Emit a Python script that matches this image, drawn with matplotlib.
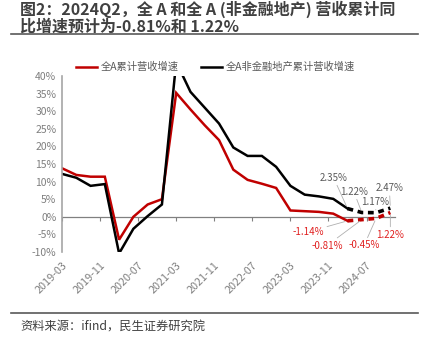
import numpy as np
import pandas as pd
import matplotlib
matplotlib.use("Agg")
import matplotlib.pyplot as plt
from matplotlib.lines import Line2D

plt.rcParams['font.family'] = ['Noto Sans CJK SC', 'DejaVu Sans']

# quarterly data, 2019Q1 .. 2024Q4
quarters = pd.period_range('2019Q1', '2024Q4', freq='Q')
all_a = [13.8, 11.9, 11.4, 11.4, -6.5, 0.0, 3.5, 5.0,
         35.2, 30.5, 26.0, 21.8, 13.4, 10.5, 9.4, 8.2,
         1.8, 1.6, 1.4, 0.9, -1.14, -0.81, -0.45, 1.22]
non_fin = [12.2, 11.1, 8.8, 9.3, -10.4, -3.4, 0.2, 3.5,
           44.0, 35.5, 31.0, 26.5, 19.7, 17.3, 17.3, 14.2,
           8.8, 6.3, 5.8, 5.1, 2.35, 1.22, 1.17, 2.47]
tick_labels = ['2019-03', '2019-11', '2020-07', '2021-03', '2021-11',
               '2022-07', '2023-03', '2023-11', '2024-07']
n_solid = 21  # last actual point is 2024Q1, rest dashed

# label texts and offsets (pixels) for the dashed tail
red_lab = ['-1.14%', '-0.81%', '-0.45%', '1.22%']
red_off = [(-39, -11), (-35, -26), (-12, -27), (0, -22)]
blk_lab = ['2.35%', '1.22%', '1.17%', '2.47%']
blk_off = [(-14, 31), (-8, 21), (-1, 11), (-1, 20)]

RED = '#C00000'
GRAY = '#7f7f7f'

x = np.array([(q.year - 2019) * 12 + q.quarter * 3 - 3 for q in quarters])
tick_x = [(int(t[:4]) - 2019) * 12 + int(t[5:]) - 3 for t in tick_labels]

fig = plt.figure(figsize=(4.29, 3.44), dpi=100)
ax = fig.add_axes([0.1445, 0.2674, 0.7765, 0.5116])

ax.plot(x[:n_solid], all_a[:n_solid], color=RED, lw=1.8, solid_joinstyle='miter')
ax.plot(x[:n_solid], non_fin[:n_solid], color='black', lw=1.8, solid_joinstyle='miter')
ax.plot(x[n_solid - 1:], all_a[n_solid - 1:], color=RED, lw=2.6, ls=(0, (1.6, 1.3)))
ax.plot(x[n_solid - 1:], non_fin[n_solid - 1:], color='black', lw=2.6, ls=(0, (1.6, 1.3)))

ax.set_xlim(0, 70)
ax.set_ylim(-10, 40)
ax.set_yticks(range(-10, 41, 5))
ax.set_yticklabels([f'{v}%' for v in range(-10, 41, 5)])
ax.set_xticks(tick_x)
ax.set_xticklabels(tick_labels, rotation=45, ha='right', rotation_mode='anchor')
ax.tick_params(axis='x', length=0, pad=6, labelsize=7.8, labelcolor=GRAY)
ax.tick_params(axis='y', length=0, pad=4, labelsize=7.5, labelcolor=GRAY)
for s in ['top', 'right', 'bottom']:
    ax.spines[s].set_visible(False)
ax.spines['left'].set_color('#a6a6a6')
ax.spines['left'].set_linewidth(1.2)

# zero axis with tick marks
sec = ax.secondary_xaxis(0.2)
sec.set_xticks(tick_x)
sec.tick_params(axis='x', direction='out', length=3, color='#808080',
                labelbottom=False, width=0.8)
sec.spines['bottom'].set_color('#808080')
sec.spines['bottom'].set_linewidth(0.9)

# point labels
for i in range(4):
    k = n_solid - 1 + i
    ax.annotate(red_lab[i], (x[k], all_a[k]), xytext=red_off[i],
                textcoords='offset pixels', ha='center', va='center',
                fontsize=7, color='#e02020',
                arrowprops=dict(arrowstyle='-', color='#b0b0b0', lw=0.6,
                                shrinkA=0, shrinkB=2))
    ax.annotate(blk_lab[i], (x[k], non_fin[k]), xytext=blk_off[i],
                textcoords='offset pixels', ha='center', va='center',
                fontsize=7, color='#595959',
                arrowprops=dict(arrowstyle='-', color='#b0b0b0', lw=0.6,
                                shrinkA=0, shrinkB=2))

# legend
handles = [Line2D([], [], color=RED, lw=1.8), Line2D([], [], color='black', lw=1.8)]
leg = fig.legend(handles, ['全A累计营收增速', '全A非金融地产累计营收增速'],
                 loc='center', bbox_to_anchor=(0.502, 1 - 67 / 344), ncol=2,
                 frameon=False, fontsize=7.4, handlelength=2.05, columnspacing=2.1,
                 handletextpad=0.4)
for t in leg.get_texts():
    t.set_color('#595959')

# title, rules and source
fig.text(20 / 429, 1 - 1 / 344,
         '图2：2024Q2，全 A 和全 A (非金融地产) 营收累计同\n比增速预计为-0.81%和 1.22%',
         fontsize=11.5, fontweight='bold', color='#404040', va='top',
         linespacing=1.0)
fig.add_artist(Line2D([11 / 429, 418 / 429], [1 - 34 / 344, 1 - 34 / 344],
                      color='#595959', lw=1.2))
fig.add_artist(Line2D([11 / 429, 418 / 429], [1 - 313 / 344, 1 - 313 / 344],
                      color='#595959', lw=1.2))
fig.text(20 / 429, 1 - 327 / 344, '资料来源：ifind，民生证券研究院',
         fontsize=8.8, color='#404040', va='center')

fig.savefig('out.png', dpi=100)
